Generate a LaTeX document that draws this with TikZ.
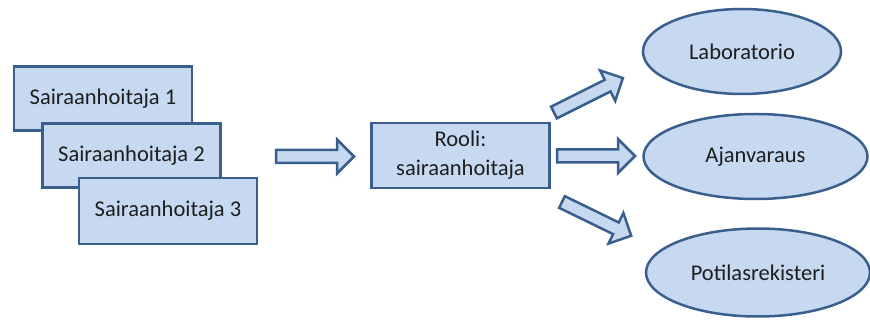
\documentclass[tikz,border=0pt]{standalone}
\usepackage{fontspec}
\setmainfont{Carlito}
\usetikzlibrary{shapes.geometric}
\definecolor{boxfill}{HTML}{C6D9F1}
\definecolor{boxline}{HTML}{3A5F8C}
\definecolor{txt}{HTML}{1E1E1E}
\tikzset{
  rbox/.style={draw=boxline, fill=boxfill, line width=2.5pt, minimum width=178pt, minimum height=64pt, inner sep=0pt, text=txt, font=\fontsize{22.5}{29}\selectfont, align=center},
  oval/.style={ellipse, draw=boxline, fill=boxfill, line width=2.5pt, inner sep=0pt, text=txt, font=\fontsize{22.5}{29}\selectfont},
  barrow/.style={draw=boxline, fill=boxfill, line width=2.5pt, line join=miter}
}
\newcommand\blockarrow[3]{%
  \begin{scope}[shift={#1}, rotate=#2]
    \draw[barrow] (0,-6.5) -- (#3-17,-6.5) -- (#3-17,-17) -- (#3,0) -- (#3-17,17) -- (#3-17,6.5) -- (0,6.5) -- cycle;
  \end{scope}}
\begin{document}
\begin{tikzpicture}[x=1pt, y=-1pt]
  \useasboundingbox (0,0) rectangle (870,320);
  \node[rbox] (s1) at (103,98.5) {Sairaanhoitaja 1};
  \node[rbox] (s2) at (131.5,155.5) {Sairaanhoitaja 2};
  \node[rbox, minimum height=66pt] (s3) at (168,211) {Sairaanhoitaja 3};
  \node[rbox, minimum height=65pt] (rooli) at (460.5,155.5) {Rooli:\\sairaanhoitaja};
  \node[oval, minimum width=198pt, minimum height=85pt] (lab) at (742,51.5) {Laboratorio};
  \node[oval, minimum width=224pt, minimum height=85pt] (ajan) at (755.5,156.5) {Ajanvaraus};
  \node[oval, minimum width=224pt, minimum height=88pt] (pot) at (758,272.5) {Potilasrekisteri};
  \blockarrow{(276,156.5)}{0}{78}
  \blockarrow{(557,156)}{0}{78}
  \blockarrow{(554,112.5)}{26.6}{77}
  \blockarrow{(562,202)}{-26}{77}
\end{tikzpicture}
\end{document}
